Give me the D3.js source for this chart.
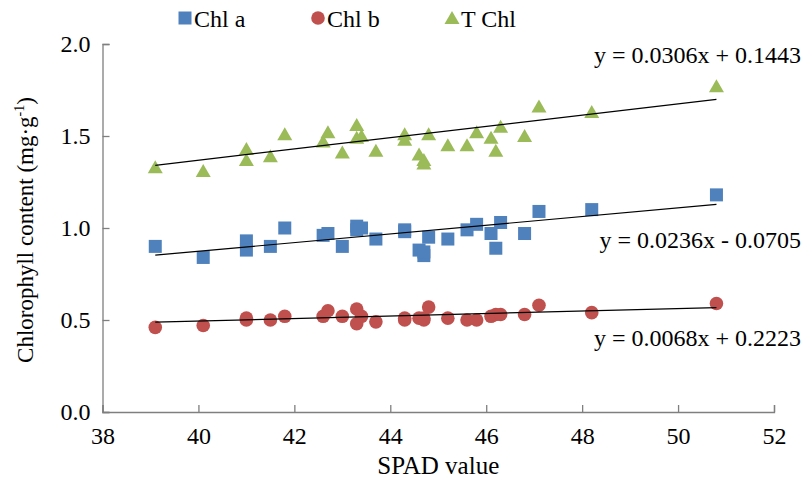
<!DOCTYPE html>
<html><head><meta charset="utf-8">
<script src="https://cdn.jsdelivr.net/npm/d3@7"></script>
<style>body{margin:0;background:#fff}</style>
</head><body><svg id="c" width="805" height="488"></svg>
<script>
const spad = [39.1,40.1,41.0,41.0,41.5,41.8,42.6,42.7,43.0,43.3,43.3,43.4,43.7,44.3,44.3,44.6,44.7,44.7,44.8,45.2,45.6,45.8,46.1,46.2,46.3,46.8,47.1,48.2,50.8];
const chlA = [0.90,0.84,0.93,0.88,0.90,1.00,0.96,0.97,0.90,1.01,0.99,1.00,0.94,0.99,0.98,0.88,0.85,0.87,0.95,0.94,0.99,1.02,0.97,0.89,1.03,0.97,1.09,1.10,1.18];
const chlB = [0.46,0.47,0.51,0.50,0.50,0.52,0.52,0.55,0.52,0.56,0.48,0.52,0.49,0.51,0.50,0.51,0.50,0.51,0.57,0.51,0.50,0.50,0.52,0.53,0.53,0.53,0.58,0.54,0.59];
const tChl = [1.33,1.31,1.43,1.37,1.39,1.51,1.47,1.52,1.41,1.56,1.49,1.50,1.42,1.51,1.48,1.40,1.37,1.35,1.51,1.45,1.45,1.52,1.49,1.42,1.55,1.50,1.66,1.63,1.77];
const seriesNames = ["Chl a","Chl b","T Chl"];
const slopes = [0.0236,0.0068,0.0306];
const intercepts = [-0.0705,0.2223,0.1443];
const equations = ["y = 0.0236x - 0.0705","y = 0.0068x + 0.2223","y = 0.0306x + 0.1443"];
const xTicks = [38,40,42,44,46,48,50,52];
const yTicks = [0,0.5,1.0,1.5,2.0];

const FONT = "'Liberation Serif', 'Times New Roman', Tinos, 'DejaVu Serif', serif";
const colors = ["#4F81BD","#C0504D","#9BBB59"];
const shapes = ["square","circle","triangle"];
const svg = d3.select("#c");
const x = d3.scaleLinear().domain([38,52]).range([102.5,774]);
const y = d3.scaleLinear().domain([0,2]).range([412,44]);
const axisColor = "#7f7f7f";

// axes
const gx = svg.append("g").attr("transform","translate(0,412)")
  .call(d3.axisBottom(x).tickValues(xTicks).tickSize(-7).tickPadding(15).tickFormat(d3.format("d")));
const gy = svg.append("g").attr("transform","translate(102.5,0)")
  .call(d3.axisLeft(y).tickValues(yTicks).tickSize(-7).tickPadding(12).tickFormat(d3.format(".1f")));
[gx,gy].forEach(g=>{
  g.attr("font-family",null);
  g.select(".domain").attr("stroke",axisColor).attr("stroke-width",1.3);
  g.selectAll(".tick line").attr("stroke",axisColor).attr("stroke-width",1.3);
  g.selectAll(".tick text").style("font-size","24px").style("font-family",FONT).attr("fill","#000");
});
gx.selectAll(".tick text").attr("dy","0.71em");

function marker(sel, shape, color){
  if(shape==="square"){
    sel.append("rect").attr("x",-6.5).attr("y",-6.5).attr("width",13).attr("height",13).attr("fill",color);
  } else if(shape==="circle"){
    sel.append("circle").attr("r",6.8).attr("fill",color);
  } else {
    sel.append("path").attr("d","M0,-7L7.5,6L-7.5,6Z").attr("fill",color);
  }
}

const seriesVals = [chlA,chlB,tChl];
[0,1,2].forEach(i=>{
  const g = svg.append("g");
  spad.forEach((s,j)=>{
    const m = g.append("g").attr("transform",`translate(${x(s)},${y(seriesVals[i][j])})`);
    marker(m, shapes[i], colors[i]);
  });
});
// trend lines
const xmin = d3.min(spad), xmax = d3.max(spad);
slopes.forEach((b,i)=>{
  svg.append("line")
    .attr("x1",x(xmin)).attr("y1",y(b*xmin+intercepts[i]))
    .attr("x2",x(xmax)).attr("y2",y(b*xmax+intercepts[i]))
    .attr("stroke","#000").attr("stroke-width",1.2);
});
function txt(sel){ return sel.style("font-family",FONT).attr("fill","#000"); }
// equations
const eqPos = [[801,248],[801,346],[801,63]];
equations.forEach((t,i)=>{
  txt(svg.append("text")).attr("x",eqPos[i][0]).attr("y",eqPos[i][1]).attr("text-anchor","end")
    .style("font-size","24px").text(t);
});
// legend
const legX = [185,318,452];
seriesNames.forEach((n,i)=>{
  const m = svg.append("g").attr("transform",`translate(${legX[i]},18)`);
  marker(m, shapes[i], colors[i]);
  txt(svg.append("text")).attr("x",legX[i]+9).attr("y",27).style("font-size","24px").text(n);
});
// axis titles
txt(svg.append("text")).attr("x",x(45)).attr("y",474).attr("text-anchor","middle").style("font-size","25px").text("SPAD value");
const yt = txt(svg.append("text")).attr("transform","translate(33,230) rotate(-90)").attr("text-anchor","middle").style("font-size","23px");
yt.append("tspan").text("Chlorophyll content (mg·g");
yt.append("tspan").style("font-size","14px").attr("dy",-9).text("-1");
yt.append("tspan").attr("dy",9).text(")");
</script></body></html>
